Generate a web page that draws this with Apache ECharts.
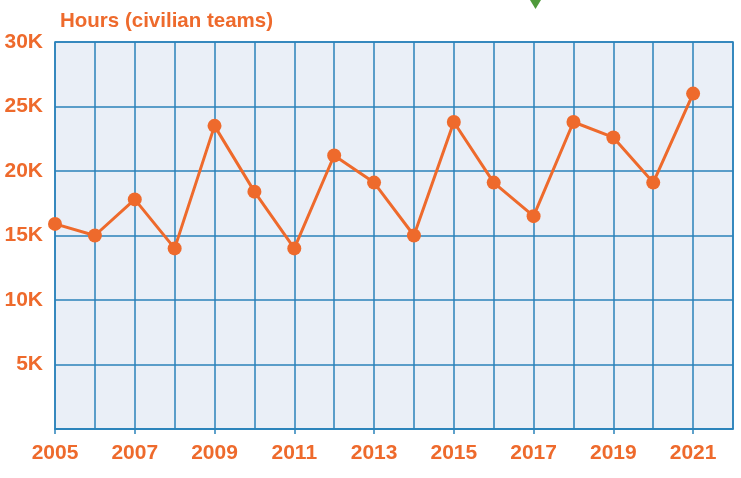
<!DOCTYPE html>
<html>
<head>
<meta charset="utf-8">
<script src="https://cdn.jsdelivr.net/npm/echarts@6/dist/echarts.min.js"></script>
<style>
  html, body { margin: 0; padding: 0; background: #fff; }
  #chart { width: 741px; height: 478px; }
</style>
</head>
<body>
<div id="chart"></div>
<script>
// years on the x axis (2022 only closes the grid on the right)
const years = ['2005', '2006', '2007', '2008', '2009', '2010', '2011', '2012', '2013',
  '2014', '2015', '2016', '2017', '2018', '2019', '2020', '2021', '2022'];
// hours of civilian teams
const hours = [15900, 15000, 17800, 14000, 23500, 18400, 14000, 21200, 19100,
  15000, 23800, 19100, 16500, 23800, 22600, 19100, 26000];
const yTicks = [0, 5000, 10000, 15000, 20000, 25000, 30000];

const orange = '#EE6A2C';
const blue = '#2A82BA';
const font = 'Liberation Sans, Arial, sans-serif';

const chart = echarts.init(document.getElementById('chart'));

const option = {
  animation: false,
  title: {
    text: 'Hours (civilian teams)',
    left: 55,
    top: 6,
    textStyle: { color: orange, fontSize: 20.5, fontWeight: 'bold', fontFamily: font }
  },
  grid: {
    left: 55, right: 8, top: 42, bottom: 49,
    show: true,
    backgroundColor: '#EAEFF7',
    borderColor: blue,
    borderWidth: 1.5
  },
  xAxis: {
    type: 'category',
    data: years,
    boundaryGap: false,
    axisLine: { lineStyle: { color: blue, width: 1.5 } },
    axisTick: { show: true, interval: 1, length: 5, lineStyle: { color: blue, width: 1.5 } },
    axisLabel: {
      interval: 1, margin: 14,
      color: orange, fontSize: 21, fontWeight: 'bold', fontFamily: font
    },
    splitLine: { show: true, interval: 0, lineStyle: { color: blue, width: 1.5 } }
  },
  yAxis: {
    type: 'value',
    min: yTicks[0],
    max: yTicks[yTicks.length - 1],
    interval: 5000,
    axisLine: { show: false },
    axisTick: { show: false },
    axisLabel: {
      margin: 12,
      color: orange, fontSize: 21, fontWeight: 'bold', fontFamily: font,
      formatter: (v) => (v === 0 ? '' : v / 1000 + 'K')
    },
    splitLine: { show: true, lineStyle: { color: blue, width: 1.5 } }
  },
  series: [
    {
      type: 'line',
      data: hours,
      symbol: 'circle',
      symbolSize: 14,
      lineStyle: { color: orange, width: 3 },
      itemStyle: { color: orange }
    }
  ],
  graphic: [
    {
      type: 'polygon',
      shape: { points: [[530, 0], [541, 0], [535.5, 9]] },
      style: { fill: '#4F9A3B' }
    }
  ]
};

chart.setOption(option);
</script>
</body>
</html>
